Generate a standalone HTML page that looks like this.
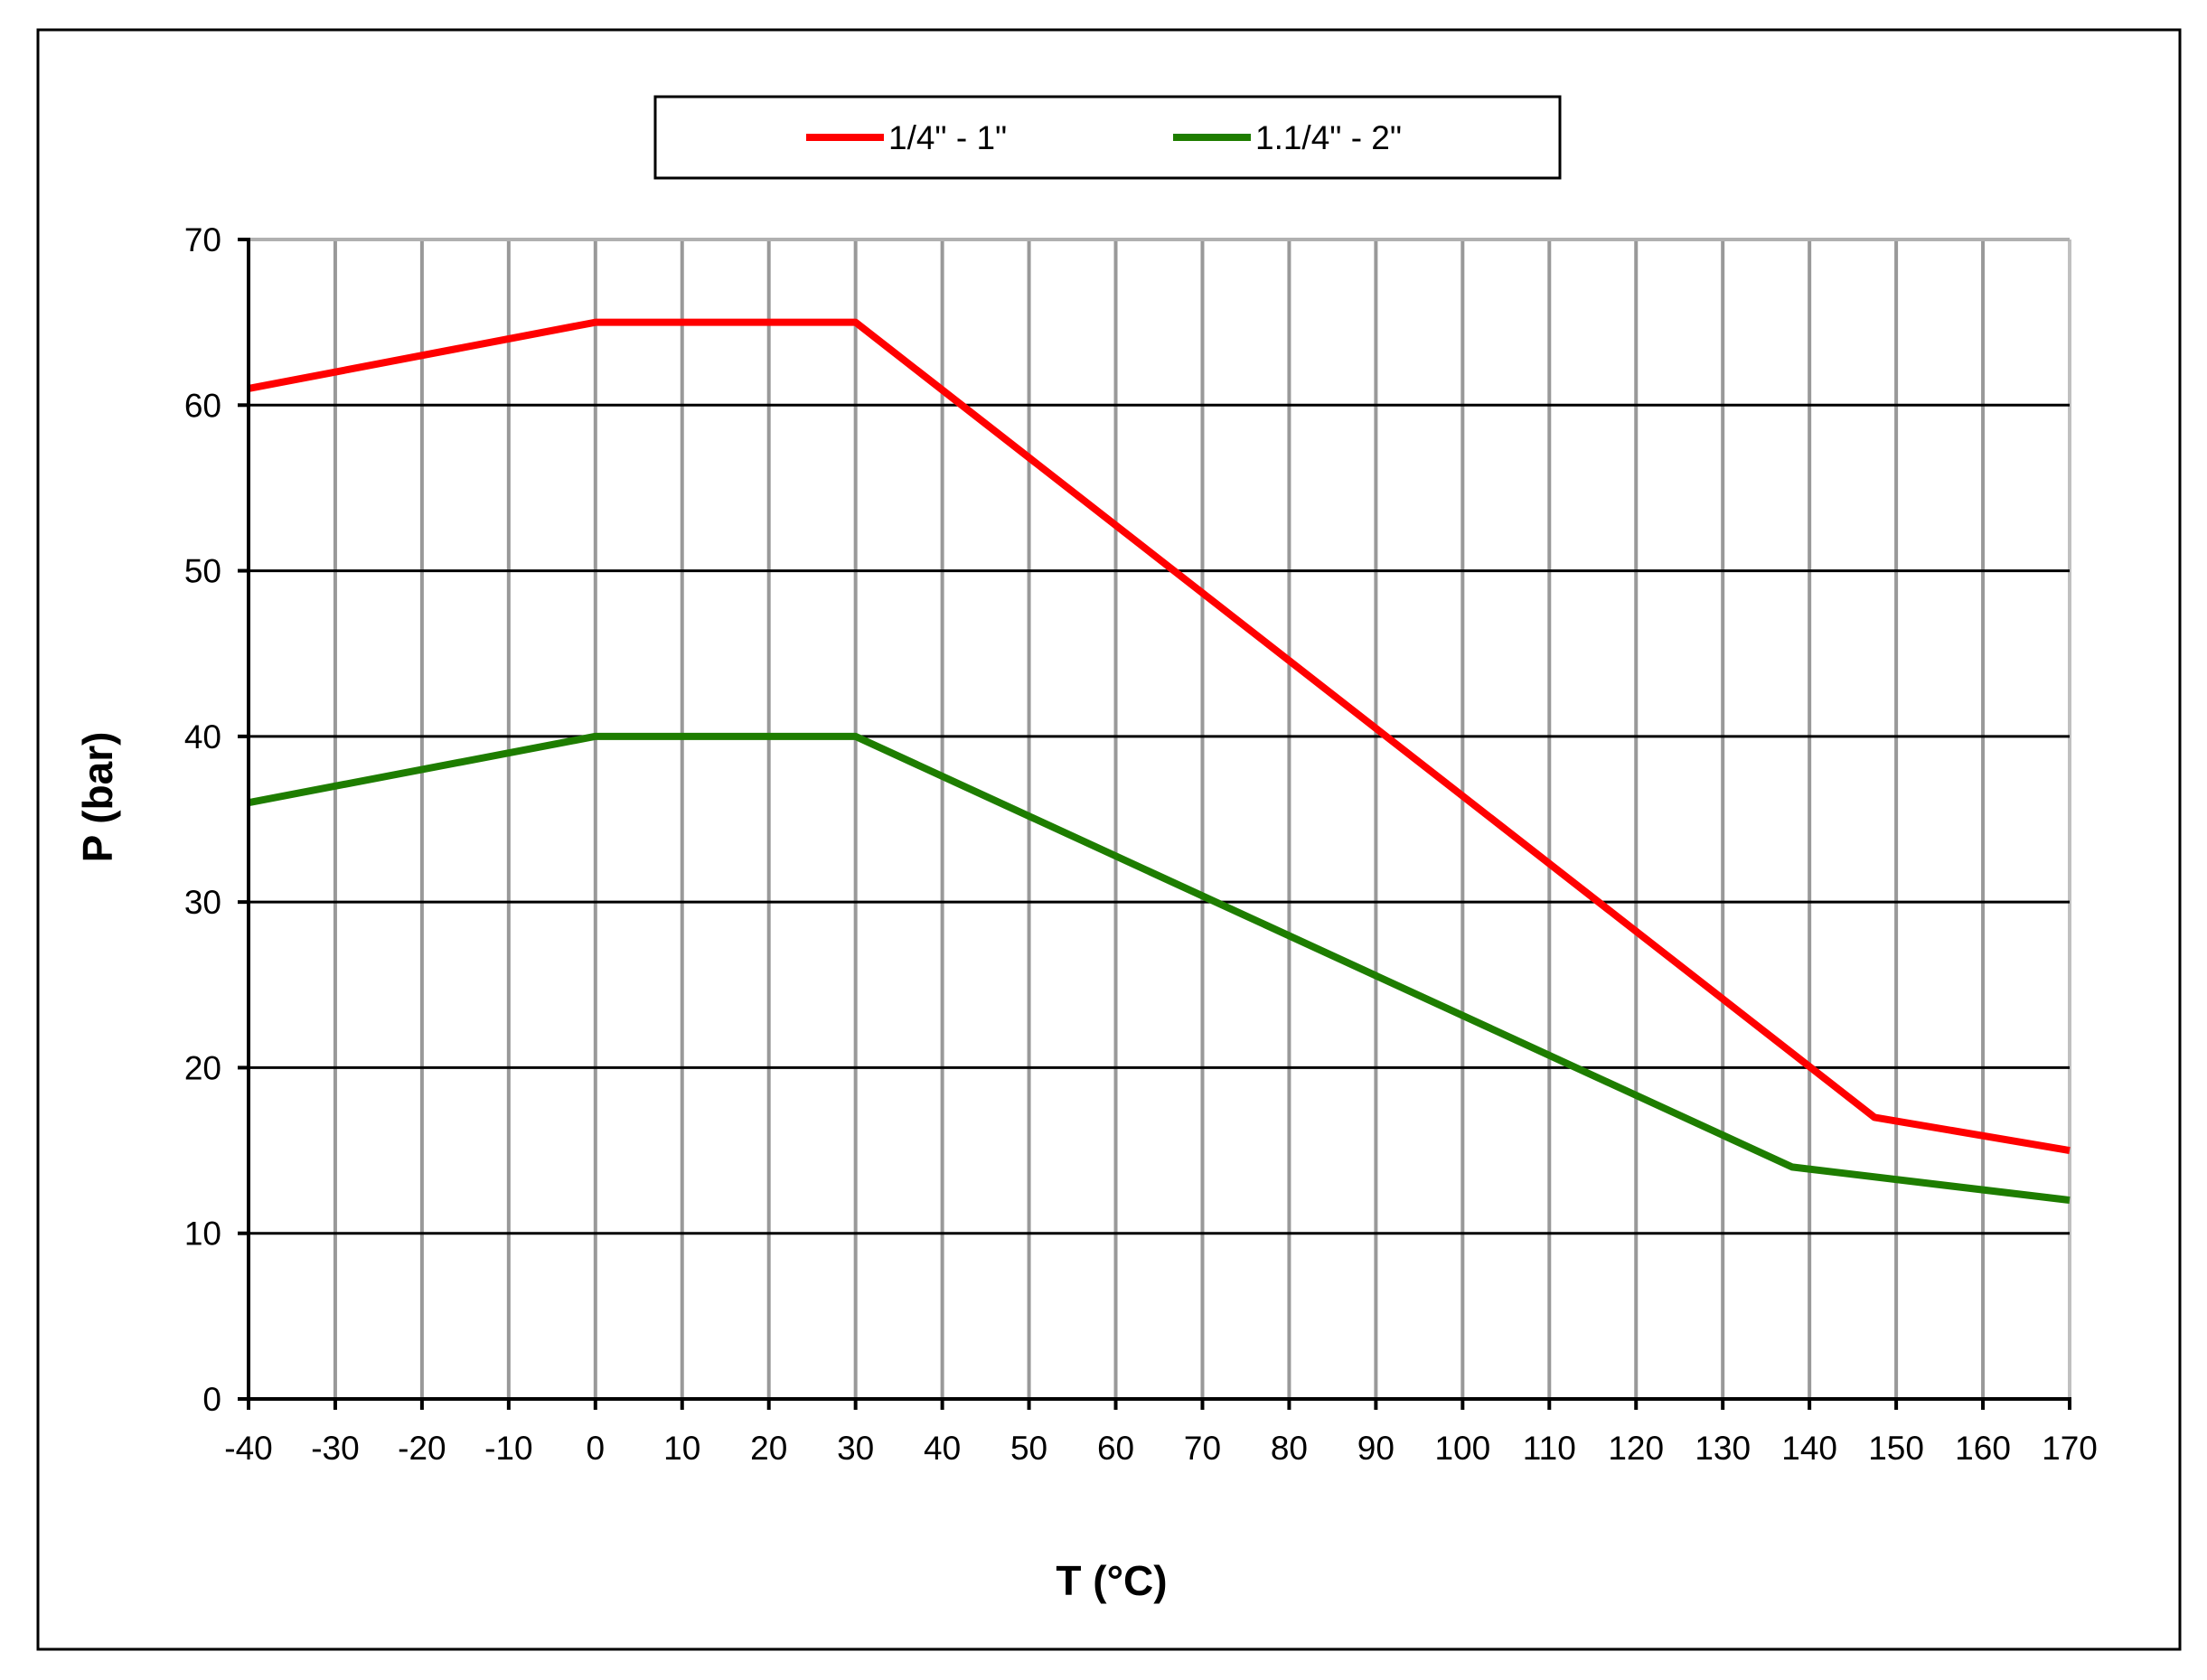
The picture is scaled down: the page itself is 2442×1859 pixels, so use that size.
<!DOCTYPE html>
<html><head><meta charset="utf-8"><style>
html,body{margin:0;padding:0;background:#fff;}
svg{display:block;font-family:"Liberation Sans",Arial,sans-serif;}
</style></head><body>
<svg id="chart" width="2442" height="1859" viewBox="0 0 2442 1859" xmlns="http://www.w3.org/2000/svg">
<rect x="42" y="33" width="2370" height="1792" fill="#fff" stroke="#000" stroke-width="3"/>
<g>
<rect x="725" y="107" width="1001" height="90" fill="#fff" stroke="#000" stroke-width="3"/>
<line x1="892" y1="152" x2="978" y2="152" stroke="#ff0000" stroke-width="8"/>
<text x="983" y="165" font-size="37">1/4" - 1"</text>
<line x1="1298" y1="152" x2="1384" y2="152" stroke="#1e7d00" stroke-width="8"/>
<text x="1389" y="165" font-size="37">1.1/4" - 2"</text>
</g>
<g id="grid"></g>
<g id="series"></g>
<g id="axes"></g>
<text x="1230" y="1765" font-size="46" font-weight="bold" text-anchor="middle">T (°C)</text>
<text transform="translate(124,882) rotate(-90)" font-size="46" font-weight="bold" text-anchor="middle">P (bar)</text>
</svg>
<script>
const xTicks = [-40,-30,-20,-10,0,10,20,30,40,50,60,70,80,90,100,110,120,130,140,150,160,170];
const yTicks = [0,10,20,30,40,50,60,70];
const redT = [-40,0,30,147.5,170];
const redP = [61,65,65,17,15];
const greenT = [-40,0,30,138,170];
const greenP = [36,40,40,14,12];

const X0=275, X1=2290, Y0=1548, Y1=265;
function sx(v){return X0+(v-(-40))/(170-(-40))*(X1-X0);}
function sy(v){return Y0-(v-0)/(70-0)*(Y0-Y1);}
const NS="http://www.w3.org/2000/svg";
function mk(tag,attrs,parent){const e=document.createElementNS(NS,tag);for(const k in attrs)e.setAttribute(k,attrs[k]);parent.appendChild(e);return e;}
const grid=document.getElementById('grid'), series=document.getElementById('series'), axes=document.getElementById('axes');

xTicks.forEach(function(t){
  if(t===-40) return;
  const l=mk('line',{x1:sx(t),y1:Y1,x2:sx(t),y2:Y0,stroke:t===170?'#c0c0c0':'#999',"stroke-width":4},grid);
  
  
});
yTicks.forEach(function(t){
  if(t===0) return;
  const l=mk('line',{x1:X0,y1:sy(t),x2:X1,y2:sy(t),stroke:t===70?'#b0b0b0':'#000',"stroke-width":t===70?4:3},grid);
  
  
});
function drawLine(ts,ps,color,name){
  const pts=ts.map(function(t,i){return sx(t)+','+sy(ps[i]);}).join(' ');
  const p=mk('polyline',{points:pts,fill:'none',stroke:color,"stroke-width":8,"stroke-linejoin":'round'},series);
  
  
}
drawLine(greenT,greenP,'#1e7d00','series-green-line');
drawLine(redT,redP,'#ff0000','series-red-line');

const ya=mk('line',{x1:X0,y1:Y1-2,x2:X0,y2:Y0+2,stroke:'#000',"stroke-width":4},axes);


const xa=mk('line',{x1:X0-2,y1:Y0,x2:X1+2,y2:Y0,stroke:'#000',"stroke-width":4},axes);


yTicks.forEach(function(t){
  const tk=mk('line',{x1:X0-12,y1:sy(t),x2:X0,y2:sy(t),stroke:'#000',"stroke-width":4},axes);
  
  
  const tx=mk('text',{x:X0-30,y:sy(t)+13,"font-size":37,"text-anchor":'end'},axes);
  tx.textContent=t;
  
  
});
xTicks.forEach(function(t){
  const tk=mk('line',{x1:sx(t),y1:Y0,x2:sx(t),y2:Y0+12,stroke:'#000',"stroke-width":4},axes);
  
  
  const tx=mk('text',{x:sx(t),y:Y0+67,"font-size":37,"text-anchor":'middle'},axes);
  tx.textContent=t;
  
  
});
</script>
</body></html>
